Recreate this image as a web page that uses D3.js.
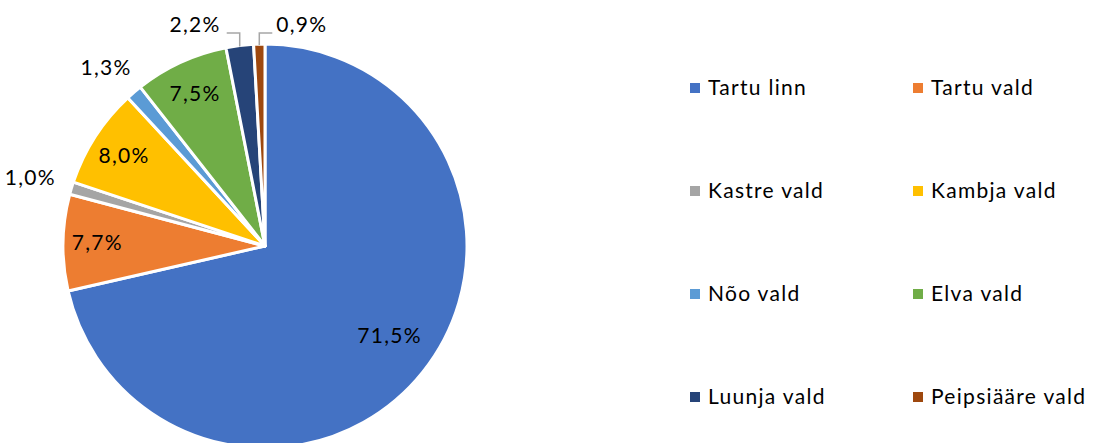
<!DOCTYPE html>
<html>
<head>
<meta charset="utf-8">
<script src="https://cdn.jsdelivr.net/npm/d3@7"></script>
<style>
  body { margin: 0; background: #fff; }
  svg { display: block; font-family: "Lato", "DejaVu Sans", sans-serif; }
  text { font-size: 21px; letter-spacing: 1.3px; fill: #000; }
</style>
</head>
<body>
<div id="chart"></div>
<script>
const categories = ['Tartu linn', 'Tartu vald', 'Kastre vald', 'Kambja vald',
    'Nõo vald', 'Elva vald', 'Luunja vald', 'Peipsiääre vald'];
const values = [71.5, 7.7, 1.0, 8.0, 1.3, 7.5, 2.2, 0.9];
const colors = ['#4472C4', '#ED7D31', '#A5A5A5', '#FFC000',
    '#5B9BD5', '#70AD47', '#264478', '#9E480E'];

const width = 1099;
const height = 443;
const cx = 265, cy = 246, r = 202;

const svg = d3.select("#chart").append("svg")
    .attr("width", width).attr("height", height);

const data = categories.map((c, i) => ({ name: c, value: values[i], color: colors[i] }));

const pie = d3.pie().sort(null).value(d => d.value);
const arcs = pie(data);
const arc = d3.arc().innerRadius(0).outerRadius(r);

const g = svg.append("g").attr("transform", `translate(${cx},${cy})`);

g.selectAll("path.slice")
    .data(arcs)
    .enter().append("path")
    .attr("class", "slice")
    .attr("d", arc)
    .attr("fill", d => d.data.color)
    .attr("stroke", "#fff")
    .attr("stroke-width", 3)
    .attr("stroke-linejoin", "round");

const fmt = v => v.toFixed(1).replace(".", ",") + "%";
const maxVal = d3.max(values);

// point at angle (from 12 o'clock, clockwise) and radius
const pt = (a, rad) => [Math.sin(a) * rad, -Math.cos(a) * rad];

// slices near the top get a leader line; the one closest to 12 o'clock goes right
const leaderIdx = arcs
    .map((d, i) => ({ i, mid: (d.startAngle + d.endAngle) / 2, v: d.data.value }))
    .filter(o => o.v < 2.5 && Math.min(o.mid, 2 * Math.PI - o.mid) < Math.PI / 9)
    .map(o => o.i);

arcs.forEach((d, i) => {
    const mid = (d.startAngle + d.endAngle) / 2;
    const label = fmt(d.data.value);

    if (d.data.value >= 2.5) {
        // label inside the slice
        const big = d.data.value === maxVal;
        const k = big ? 0.76 : 0.83;
        const [x, y] = pt(big ? mid - 0.05 : mid, r * k);
        g.append("text")
            .attr("x", x).attr("y", y)
            .attr("dy", "0.35em")
            .attr("text-anchor", "middle")
            .text(label);
    } else if (!leaderIdx.includes(i)) {
        // label outside, box pushed clear of the rim
        const [ex, ey] = pt(mid, r + 18);
        const x = ex + Math.sin(mid) * 25;
        const y = ey - Math.cos(mid) * 10;
        g.append("text")
            .attr("x", x).attr("y", y - 3)
            .attr("dy", "0.35em")
            .attr("text-anchor", "middle")
            .text(label);
    } else {
        // label above the pie with a leader line
        const [x0, y0] = pt(mid, r);
        const yl = -r - 11;
        const right = i === leaderIdx[leaderIdx.length - 1];
        const x1 = right ? x0 + 13 : x0 - 13;
        g.append("path")
            .attr("d", `M${x0},${y0 + 1}V${yl}H${x1}`)
            .attr("fill", "none")
            .attr("stroke", "#A6A6A6")
            .attr("stroke-width", 1.5);
        g.append("text")
            .attr("x", right ? x1 + 4 : x1 - 6)
            .attr("y", yl - 8)
            .attr("dy", "0.35em")
            .attr("text-anchor", right ? "start" : "end")
            .text(label);
    }
});

// legend: two columns, four rows
const colX = [690, 913];
const rowY = [88, 191, 294, 397];

const legend = svg.append("g");
data.forEach((d, i) => {
    const x = colX[i % 2];
    const y = rowY[Math.floor(i / 2)];
    legend.append("rect")
        .attr("x", x).attr("y", y - 5)
        .attr("width", 10).attr("height", 10)
        .attr("fill", d.color);
    legend.append("text")
        .attr("x", x + 18).attr("y", y)
        .attr("dy", "0.35em")
        .text(d.name);
});
</script>
</body>
</html>
